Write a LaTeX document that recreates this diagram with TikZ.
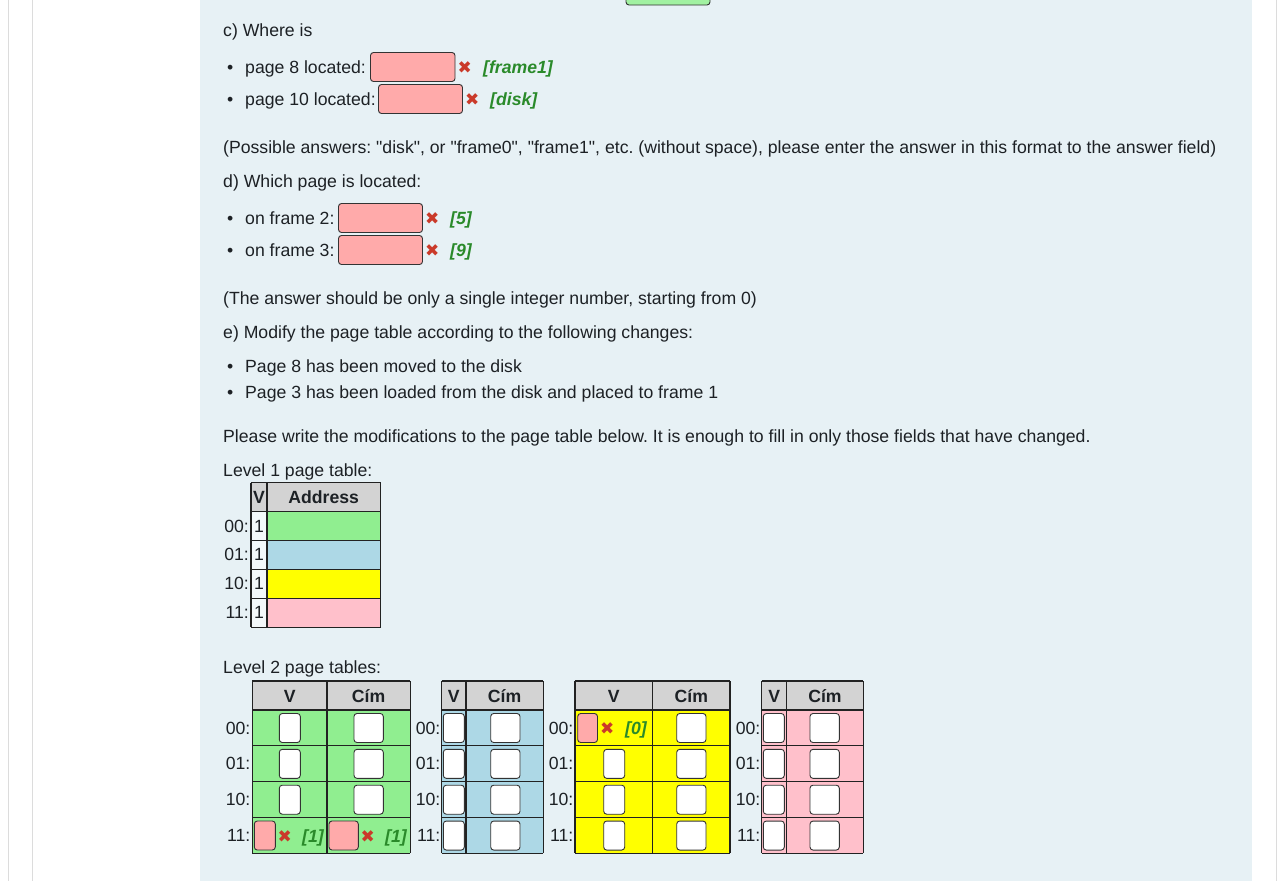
\documentclass[tikz,border=0pt]{standalone}
\usepackage{fontspec}
\setmainfont{Liberation Sans}[Ligatures=TeXOff]
\newfontfamily\symfont{DejaVu Sans}
\frenchspacing
\definecolor{panel}{HTML}{E7F1F5}
\definecolor{ink}{HTML}{1D2125}
\definecolor{rulegray}{HTML}{DCDCDC}
\definecolor{hdr}{HTML}{D3D3D3}
\definecolor{tgreen}{HTML}{90EE90}
\definecolor{tblue}{HTML}{ADD8E6}
\definecolor{tyellow}{HTML}{FFFF00}
\definecolor{tpink}{HTML}{FFC0CB}
\definecolor{bad}{HTML}{FFAAAA}
\definecolor{xred}{HTML}{CA3A2A}
\definecolor{okgreen}{HTML}{2A8A2A}
\definecolor{vcell}{HTML}{F3F8FA}
\definecolor{boxline}{HTML}{333333}
\definecolor{grid}{HTML}{222222}
\tikzset{
  txt/.style={anchor=base west, inner sep=0pt, text=ink, font=\fontsize{17.65}{20}\selectfont},
  rtxt/.style={anchor=base east, inner sep=0pt, text=ink, font=\fontsize{17.65}{20}\selectfont},
  ctxt/.style={anchor=base, inner sep=0pt, text=ink, font=\fontsize{17.65}{20}\selectfont},
  htxt/.style={anchor=base, inner sep=0pt, text=ink, font=\fontsize{17.65}{20}\selectfont\bfseries},
  wrongmark/.style={anchor=base west, inner sep=0pt, text=xred, font=\fontsize{17}{18}\selectfont\symfont},
  solution/.style={anchor=base west, inner sep=0pt, text=okgreen, font=\fontsize{17.65}{20}\selectfont\bfseries\itshape},
  badbox/.style={draw=boxline, line width=0.9pt, fill=bad, rounded corners=3pt},
  inbox/.style={draw=boxline, line width=0.9pt, fill=white, rounded corners=3pt},
  gridline/.style={draw=grid, line width=1.1pt},
  pagerule/.style={draw=rulegray, line width=1pt}
}
\begin{document}
\begin{tikzpicture}[x=1pt,y=-1pt]
\useasboundingbox (0,0) rectangle (1280,881);
\fill[white] (0,0) rectangle (1280,881);
\fill[panel] (200,0) rectangle (1252,881);
\draw[pagerule] (8,0) -- (8,881);
\draw[pagerule] (32,0) -- (32,881);
\draw[pagerule] (1276,0) -- (1276,881);
% partially visible box at the top
\draw[draw=boxline, line width=0.9pt, fill=tgreen!85!white, rounded corners=3pt] (626,-10) rectangle (710,5);

% ---- c) ----
\node[txt] (c) at (223,36) {c) Where is};
\node[txt] (b1) at (227,73) {\textbullet};
\node[txt] (p8) at (245,73) {page 8 located:};
\draw[badbox] (370.5,52.5) rectangle (455,81.5);
\node[wrongmark] (x1) at (457.5,73) {✖};
\node[solution] (s1) at (483,73) {[frame1]};
\node[txt] (b2) at (227,105) {\textbullet};
\node[txt] (p10) at (245,105) {page 10 located:};
\draw[badbox] (378.5,84.5) rectangle (462.5,113.5);
\node[wrongmark] (x2) at (465,105) {✖};
\node[solution] (s2) at (490,105) {[disk]};

\node[txt] (poss) at (223,153) {(Possible answers: "disk", or "frame0", "frame1", etc. (without space), please enter the answer in this format to the answer field)};

% ---- d) ----
\node[txt] (d) at (223,187) {d) Which page is located:};
\node[txt] (b3) at (227,224) {\textbullet};
\node[txt] (f2) at (245,224) {on frame 2:};
\draw[badbox] (338.5,203.5) rectangle (422.5,232.5);
\node[wrongmark] (x3) at (425,224) {✖};
\node[solution] (s3) at (450,224) {[5]};
\node[txt] (b4) at (227,256) {\textbullet};
\node[txt] (f3) at (245,256) {on frame 3:};
\draw[badbox] (338.5,235.5) rectangle (422.5,264.5);
\node[wrongmark] (x4) at (425,256) {✖};
\node[solution] (s4) at (450,256) {[9]};

\node[txt] (ans) at (223,304) {(The answer should be only a single integer number, starting from 0)};

% ---- e) ----
\node[txt] (e) at (223,338) {e) Modify the page table according to the following changes:};
\node[txt] (b5) at (227,372) {\textbullet};
\node[txt] (m1) at (245,372) {Page 8 has been moved to the disk};
\node[txt] (b6) at (227,398) {\textbullet};
\node[txt] (m2) at (245,398) {Page 3 has been loaded from the disk and placed to frame 1};
\node[txt] (pls) at (223,442) {Please write the modifications to the page table below. It is enough to fill in only those fields that have changed.};

% ---- Level 1 ----
\node[txt] (l1) at (223,476) {Level 1 page table:};
\fill[hdr] (251,482.5) rectangle (380.5,511.7);
\foreach \r/\c in {0/tgreen,1/tblue,2/tyellow,3/tpink}{
  \fill[vcell] (251,{511.7+28.9*\r}) rectangle (267,{511.7+28.9*(\r+1)});
  \fill[\c] (267,{511.7+28.9*\r}) rectangle (380.5,{511.7+28.9*(\r+1)});
}
\foreach \yy in {482.5,511.7,540.6,569.5,598.4,627.3}
  \draw[gridline] (251,\yy) -- (380.5,\yy);
\foreach \xx in {251,267,380.5}
  \draw[gridline] (\xx,482.5) -- (\xx,627.3);
\node[htxt] (l1v) at (259,503) {V};
\node[htxt] (l1a) at (323.7,503) {Address};
\foreach \r/\t in {0/00,1/01,2/10,3/11}{
  \node[rtxt] (l1lab\r) at (249,{532+28.9*\r}) {\t:};
  \node[ctxt] (l1one\r) at (259,{532+28.9*\r}) {1};
}

% ---- Level 2 ----
\node[txt] (l2) at (223,673) {Level 2 page tables:};
\foreach \L/\D/\R/\C/\lab/\n in {252.3/327/410.3/tgreen/250.5/a, 441.7/466/543.3/tblue/440.5/b, 575/652.7/730/tyellow/573.5/c, 761.7/786.7/863.3/tpink/760.5/d}{
  \fill[hdr] (\L,681) rectangle (\R,710);
  \fill[\C] (\L,710) rectangle (\R,853.4);
  \foreach \yy in {681,710,745.85,781.7,817.55,853.4}
    \draw[gridline] (\L,\yy) -- (\R,\yy);
  \foreach \xx in {\L,\D,\R}
    \draw[gridline] (\xx,681) -- (\xx,853.4);
  \node[htxt] (h\n v) at ({(\L+\D)/2},702) {V};
  \node[htxt] (h\n c) at ({(\D+\R)/2},702) {Cím};
  \foreach \r/\t in {0/00,1/01,2/10,3/11}
    \node[rtxt] (lab\n\r) at (\lab,{734+35.85*\r}) {\t:};
}
% white input boxes, V column
\foreach \x/\rows in {279.3/{0,1,2}, 443.3/{0,1,2,3}, 603.7/{1,2,3}, 763.3/{0,1,2,3}}{
  \foreach \r in \rows
    \draw[inbox] (\x,{713.5+35.85*\r}) rectangle ({\x+21},{742.5+35.85*\r});
}
% white input boxes, Cim column
\foreach \x/\rows in {354/{0,1,2}, 490.7/{0,1,2,3}, 676.7/{0,1,2,3}, 810/{0,1,2,3}}{
  \foreach \r in \rows
    \draw[inbox] (\x,{713.5+35.85*\r}) rectangle ({\x+29.3},{742.5+35.85*\r});
}
% wrong answers in the tables
\draw[badbox] (254.3,821) rectangle (275.3,850);
\node[wrongmark] (tx1) at (277.5,842) {✖};
\node[solution] (ts1) at (302,842) {[1]};
\draw[badbox] (329,821) rectangle (358.3,850);
\node[wrongmark] (tx2) at (360.5,842) {✖};
\node[solution] (ts2) at (385,842) {[1]};
\draw[badbox] (577.7,713.5) rectangle (597.5,742.5);
\node[wrongmark] (tx3) at (600,734) {✖};
\node[solution] (ts3) at (625,734) {[0]};
\end{tikzpicture}
\end{document}
